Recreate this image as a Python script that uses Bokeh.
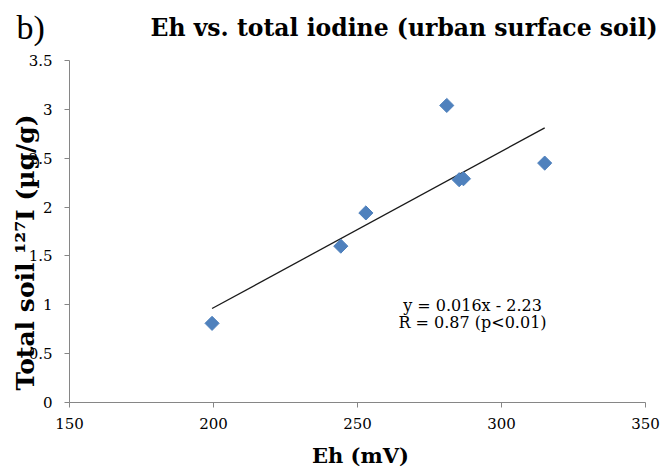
import math

from bokeh.embed import file_html
from bokeh.models import Label, Range1d, FixedTicker, LinearAxis
from bokeh.plotting import figure
from bokeh.resources import INLINE

# Redox potential vs. total soil iodine, urban surface soil samples
eh_mv = [199.5, 244.2, 252.9, 281.0, 285.3, 286.8, 315.0]
iodine_ug_g = [0.81, 1.60, 1.94, 3.04, 2.28, 2.29, 2.45]

# Linear fit as reported on the chart
slope = 0.016
intercept = -2.23
r_value = 0.87

x_ticks = [150, 200, 250, 300, 350]
y_ticks = [0, 0.5, 1, 1.5, 2, 2.5, 3, 3.5]

SERIF = "DejaVu Serif"
LETTER_FONT = "Liberation Serif"
AXIS_GREY = "#868686"

W, H = 666, 472
# Pixel extents of the data area inside the canvas
LEFT, RIGHT, TOP, BOTTOM = 69, 645, 60, 402
X_MIN, X_MAX = 150, 350
Y_MIN, Y_MAX = 0, 3.5

# The frame fills the whole canvas; ranges are widened so the data area
# lands at the pixel extents above, and axes are pinned with fixed_location.
sx = (RIGHT - LEFT) / (X_MAX - X_MIN)
sy = (BOTTOM - TOP) / (Y_MAX - Y_MIN)
x_range = Range1d(X_MIN - LEFT / sx, X_MAX + (W - RIGHT) / sx)
y_range = Range1d(Y_MIN - (H - BOTTOM) / sy, Y_MAX + TOP / sy)

p = figure(
    width=W, height=H, x_range=x_range, y_range=y_range,
    x_axis_type=None, y_axis_type=None,
    output_backend="svg", toolbar_location=None, title=None,
    min_border=0,
)
p.outline_line_color = None
p.background_fill_color = "white"
p.border_fill_color = "white"

xaxis = LinearAxis(fixed_location=Y_MIN, bounds=(X_MIN, X_MAX),
                   ticker=FixedTicker(ticks=x_ticks))
yaxis = LinearAxis(fixed_location=X_MIN, bounds=(Y_MIN, Y_MAX),
                   ticker=FixedTicker(ticks=y_ticks))
for ax in (xaxis, yaxis):
    ax.axis_line_color = AXIS_GREY
    ax.major_tick_line_color = AXIS_GREY
    ax.major_tick_out = 5
    ax.major_tick_in = 0
    ax.minor_tick_line_color = None
    ax.major_label_text_font = SERIF
    ax.major_label_text_font_size = "15px"
    ax.major_label_text_color = "black"
xaxis.major_label_standoff = 10
yaxis.major_label_standoff = 12
yaxis.major_label_overrides = {0: "0", 1: "1", 2: "2", 3: "3"}
p.add_layout(xaxis, "below")
p.add_layout(yaxis, "left")

# Trend line spanning the observed Eh range
x0, x1 = min(eh_mv), max(eh_mv)
p.line([x0, x1], [slope * x0 + intercept, slope * x1 + intercept],
       line_color="#1a1a1a", line_width=1.3)

# Sample points as blue diamonds
p.scatter(eh_mv, iodine_ug_g, marker="square", angle=math.pi / 4,
          size=10, fill_color="#4F81BD", line_color="#4F81BD")


def screen_label(x, y_from_top, text, **kw):
    p.add_layout(Label(x=x, y=H - y_from_top, x_units="screen", y_units="screen",
                       text=text, text_color="black", **kw))


# Fit equation and correlation
eq_text = f"y = {slope:.3f}x - {abs(intercept):.2f}"
r_text = f"R = {r_value:.2f} (p<0.01)"
screen_label(472, 305, eq_text, text_font=SERIF, text_font_size="16px",
             text_align="center", text_baseline="middle")
screen_label(472, 322, r_text, text_font=SERIF, text_font_size="16px",
             text_align="center", text_baseline="middle")

# Panel letter and title
screen_label(16, 27, "b)", text_font=LETTER_FONT, text_font_size="34px",
             text_align="left", text_baseline="middle")
screen_label(150, 27, "Eh vs. total iodine (urban surface soil)",
             text_font=SERIF, text_font_size="23.5px", text_font_style="bold",
             text_align="left", text_baseline="middle")

# Axis titles
screen_label(360, 455, "Eh (mV)", text_font=SERIF, text_font_size="21px",
             text_font_style="bold", text_align="center",
             text_baseline="middle")
screen_label(25, 252, "Total soil \u00b9\u00b2\u2077I (\u00b5g/g)", angle=math.pi / 2,
             text_font=SERIF, text_font_size="25px", text_font_style="bold",
             text_align="center", text_baseline="middle")

open("out.html", "w").write(file_html(p, INLINE))
